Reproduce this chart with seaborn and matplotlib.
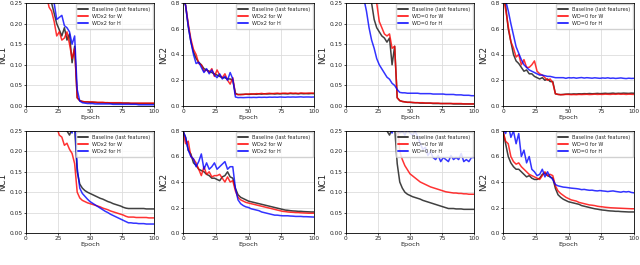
import numpy as np
import pandas as pd
import matplotlib
import matplotlib.pyplot as plt
import seaborn as sns

matplotlib.use('Agg')

# ==========================================
# DATA (epochs 0..100 step 2)
# ==========================================
EPOCHS = list(range(0, 101, 2))

LBL_BASE = 'Baseline (last features)'
LBL_WDX2 = ['WDx2 for W', 'WDx2 for H']
LBL_WD0 = ['WD=0 for W', 'WD=0 for H']

# --- row 1, col 1 : NC1, WDx2 ---
p1_base = [0.90, 0.80, 0.70, 0.60, 0.50, 0.45, 0.40, 0.35, 0.31, 0.27,
           0.25, 0.225, 0.20, 0.185, 0.17, 0.19, 0.16, 0.175, 0.105, 0.145,
           0.020, 0.013, 0.011, 0.010, 0.010, 0.009,
           0.009, 0.009, 0.008, 0.008, 0.008, 0.008, 0.008, 0.007, 0.007, 0.007, 0.007, 0.007, 0.007,
           0.007, 0.007, 0.006, 0.006, 0.006, 0.006, 0.006, 0.006, 0.006, 0.006, 0.006, 0.006]
p1_w = [0.90, 0.80, 0.70, 0.60, 0.50, 0.42, 0.36, 0.31, 0.27, 0.24,
        0.23, 0.205, 0.17, 0.18, 0.16, 0.165, 0.18, 0.15, 0.115, 0.14,
        0.020, 0.013, 0.011, 0.010, 0.010, 0.010,
        0.010, 0.009, 0.009, 0.009, 0.009, 0.008, 0.008, 0.008, 0.008, 0.008, 0.008, 0.008, 0.007,
        0.007, 0.007, 0.007, 0.007, 0.007, 0.007, 0.007, 0.007, 0.007, 0.007, 0.007, 0.007]
p1_h = [0.90, 0.80, 0.70, 0.62, 0.55, 0.48, 0.42, 0.37, 0.33, 0.29,
        0.27, 0.25, 0.21, 0.215, 0.22, 0.195, 0.19, 0.18, 0.15, 0.17,
        0.040, 0.012, 0.008, 0.007, 0.006, 0.006,
        0.006, 0.005, 0.005, 0.005, 0.005, 0.005, 0.005, 0.005, 0.004, 0.004, 0.004, 0.004, 0.004,
        0.004, 0.004, 0.004, 0.004, 0.004, 0.003, 0.003, 0.003, 0.003, 0.003, 0.003, 0.003]

# --- row 1, col 2 : NC2, WDx2 ---
p2_base = [0.85, 0.78, 0.62, 0.50, 0.42, 0.37, 0.34, 0.32, 0.29, 0.28,
           0.27, 0.26, 0.25, 0.24, 0.23, 0.22, 0.22, 0.21, 0.21, 0.20,
           0.10, 0.088, 0.09, 0.09, 0.092, 0.09,
           0.092, 0.093, 0.091, 0.094, 0.092, 0.095, 0.093, 0.094, 0.096, 0.093, 0.095, 0.094, 0.096,
           0.095, 0.094, 0.097, 0.095, 0.096, 0.094, 0.097, 0.095, 0.096, 0.095, 0.097, 0.096]
p2_w = [0.85, 0.78, 0.64, 0.52, 0.44, 0.40, 0.33, 0.32, 0.27, 0.28,
        0.26, 0.29, 0.23, 0.28, 0.24, 0.22, 0.25, 0.20, 0.17, 0.22,
        0.09, 0.09, 0.088, 0.09, 0.092, 0.093,
        0.094, 0.092, 0.096, 0.095, 0.098, 0.094, 0.097, 0.099, 0.096, 0.098, 0.100, 0.097, 0.099,
        0.100, 0.098, 0.101, 0.099, 0.100, 0.098, 0.101, 0.100, 0.099, 0.101, 0.100, 0.100]
p2_h = [0.85, 0.78, 0.62, 0.50, 0.40, 0.33, 0.34, 0.30, 0.26, 0.29,
        0.25, 0.28, 0.24, 0.22, 0.25, 0.21, 0.23, 0.20, 0.26, 0.21,
        0.07, 0.065, 0.066, 0.065, 0.066, 0.067,
        0.066, 0.067, 0.066, 0.068, 0.067, 0.068, 0.067, 0.069, 0.068, 0.069, 0.068, 0.070, 0.069,
        0.068, 0.070, 0.069, 0.070, 0.069, 0.070, 0.071, 0.069, 0.070, 0.070, 0.069, 0.070]

# --- row 1, col 3 : NC1, WD=0 ---
p3_base = [0.90, 0.80, 0.70, 0.60, 0.50, 0.45, 0.40, 0.35, 0.31, 0.27,
           0.25, 0.21, 0.19, 0.18, 0.17, 0.165, 0.155, 0.165, 0.10, 0.145,
           0.020, 0.013, 0.011, 0.010, 0.009, 0.009,
           0.008, 0.008, 0.008, 0.007, 0.007, 0.007, 0.007, 0.007, 0.006, 0.006, 0.006, 0.006, 0.006,
           0.006, 0.006, 0.006, 0.005, 0.005, 0.005, 0.005, 0.005, 0.005, 0.005, 0.005, 0.005]
p3_w = [0.95, 0.85, 0.75, 0.65, 0.57, 0.50, 0.44, 0.38, 0.33, 0.30,
        0.28, 0.27, 0.25, 0.205, 0.19, 0.175, 0.17, 0.175, 0.14, 0.145,
        0.020, 0.013, 0.011, 0.010, 0.009, 0.009,
        0.009, 0.008, 0.008, 0.008, 0.008, 0.007, 0.007, 0.007, 0.007, 0.007, 0.007, 0.006, 0.006,
        0.006, 0.006, 0.006, 0.006, 0.006, 0.006, 0.006, 0.005, 0.005, 0.005, 0.005, 0.005]
p3_h = [0.75, 0.62, 0.52, 0.44, 0.38, 0.33, 0.29, 0.26, 0.23, 0.19,
        0.16, 0.14, 0.115, 0.10, 0.09, 0.08, 0.07, 0.065, 0.055, 0.05,
        0.040, 0.033, 0.032, 0.032, 0.031, 0.031,
        0.031, 0.031, 0.031, 0.030, 0.030, 0.030, 0.030, 0.030, 0.029, 0.029, 0.029, 0.029, 0.029,
        0.028, 0.028, 0.028, 0.028, 0.027, 0.027, 0.027, 0.026, 0.026, 0.026, 0.025, 0.025]

# --- row 1, col 4 : NC2, WD=0 ---
p4_base = [0.85, 0.78, 0.60, 0.50, 0.40, 0.35, 0.33, 0.30, 0.27, 0.28,
           0.25, 0.25, 0.23, 0.22, 0.21, 0.22, 0.20, 0.21, 0.19, 0.19,
           0.095, 0.09, 0.088, 0.09, 0.092, 0.093,
           0.092, 0.094, 0.093, 0.095, 0.094, 0.096, 0.095, 0.097, 0.095, 0.096, 0.098, 0.096, 0.097,
           0.099, 0.097, 0.098, 0.100, 0.097, 0.099, 0.098, 0.100, 0.099, 0.098, 0.100, 0.099]
p4_w = [0.85, 0.75, 0.62, 0.50, 0.45, 0.38, 0.40, 0.32, 0.36, 0.30,
        0.30, 0.32, 0.35, 0.27, 0.25, 0.24, 0.22, 0.20, 0.21, 0.18,
        0.095, 0.09, 0.088, 0.088, 0.09, 0.09,
        0.088, 0.089, 0.088, 0.090, 0.089, 0.090, 0.091, 0.089, 0.090, 0.092, 0.090, 0.091, 0.090,
        0.092, 0.091, 0.090, 0.092, 0.091, 0.093, 0.091, 0.092, 0.090, 0.092, 0.091, 0.090]
p4_h = [0.90, 0.82, 0.74, 0.64, 0.55, 0.46, 0.41, 0.36, 0.32, 0.30,
        0.28, 0.27, 0.26, 0.25, 0.24, 0.24, 0.235, 0.23, 0.23, 0.225,
        0.22, 0.22, 0.22, 0.22, 0.215, 0.22,
        0.218, 0.220, 0.216, 0.219, 0.221, 0.217, 0.220, 0.218, 0.216, 0.219, 0.217, 0.215, 0.218,
        0.216, 0.219, 0.215, 0.217, 0.214, 0.216, 0.218, 0.215, 0.213, 0.216, 0.214, 0.215]

# --- row 2, col 1 : NC1, WDx2 ---
p5_base = [0.90, 0.80, 0.70, 0.62, 0.55, 0.50, 0.46, 0.42, 0.38, 0.35,
           0.33, 0.31, 0.29, 0.28, 0.27, 0.26, 0.25, 0.24, 0.255, 0.26,
           0.15, 0.12, 0.11, 0.104, 0.10, 0.097,
           0.094, 0.091, 0.088, 0.085, 0.083, 0.080, 0.077, 0.075, 0.072, 0.070, 0.068, 0.066, 0.063,
           0.061, 0.060, 0.060, 0.060, 0.060, 0.060, 0.060, 0.060, 0.059, 0.059, 0.059, 0.059]
p5_w = [0.90, 0.80, 0.70, 0.60, 0.52, 0.45, 0.40, 0.35, 0.31, 0.28,
        0.27, 0.26, 0.26, 0.24, 0.235, 0.215, 0.22, 0.205, 0.195, 0.17,
        0.10, 0.086, 0.080, 0.077, 0.074, 0.072,
        0.070, 0.068, 0.066, 0.064, 0.061, 0.059, 0.057, 0.054, 0.052, 0.050, 0.048, 0.046, 0.044,
        0.041, 0.039, 0.039, 0.039, 0.038, 0.038, 0.038, 0.038, 0.038, 0.037, 0.037, 0.037]
p5_h = [0.95, 0.85, 0.75, 0.67, 0.60, 0.54, 0.49, 0.45, 0.41, 0.38,
        0.35, 0.33, 0.31, 0.30, 0.29, 0.28, 0.27, 0.26, 0.245, 0.28,
        0.16, 0.11, 0.097, 0.090, 0.083, 0.077,
        0.073, 0.069, 0.065, 0.061, 0.057, 0.053, 0.050, 0.046, 0.043, 0.040, 0.037, 0.034, 0.031,
        0.028, 0.025, 0.025, 0.024, 0.024, 0.023, 0.023, 0.023, 0.022, 0.022, 0.022, 0.022]

# --- row 2, col 2 : NC2, WDx2 ---
p6_base = [0.80, 0.75, 0.65, 0.62, 0.55, 0.53, 0.50, 0.49, 0.48, 0.46,
           0.45, 0.43, 0.43, 0.42, 0.41, 0.44, 0.45, 0.48, 0.44, 0.43,
           0.35, 0.30, 0.28, 0.27, 0.26, 0.25,
           0.245, 0.24, 0.235, 0.23, 0.225, 0.22, 0.215, 0.21, 0.205, 0.20, 0.195, 0.19, 0.185,
           0.18, 0.178, 0.175, 0.173, 0.172, 0.17, 0.17, 0.168, 0.167, 0.166, 0.165, 0.165]
p6_w = [0.80, 0.70, 0.72, 0.60, 0.58, 0.55, 0.50, 0.45, 0.52, 0.46,
        0.48, 0.44, 0.45, 0.45, 0.46, 0.43, 0.40, 0.44, 0.40, 0.41,
        0.33, 0.28, 0.26, 0.25, 0.24, 0.235,
        0.23, 0.225, 0.22, 0.215, 0.21, 0.205, 0.20, 0.195, 0.19, 0.185, 0.18, 0.175, 0.17,
        0.168, 0.165, 0.163, 0.162, 0.16, 0.16, 0.158, 0.157, 0.156, 0.155, 0.155, 0.155]
p6_h = [0.80, 0.75, 0.65, 0.60, 0.58, 0.52, 0.56, 0.62, 0.50, 0.55,
        0.50, 0.52, 0.55, 0.50, 0.52, 0.54, 0.56, 0.50, 0.52, 0.52,
        0.35, 0.26, 0.23, 0.215, 0.205, 0.20,
        0.19, 0.185, 0.18, 0.175, 0.165, 0.16, 0.155, 0.15, 0.145, 0.14, 0.14, 0.137, 0.135,
        0.135, 0.135, 0.133, 0.132, 0.13, 0.13, 0.13, 0.128, 0.128, 0.127, 0.126, 0.125]

# --- row 2, col 3 : NC1, WD=0 ---
p7_base = [0.90, 0.80, 0.70, 0.62, 0.55, 0.50, 0.46, 0.42, 0.38, 0.35,
           0.33, 0.31, 0.29, 0.28, 0.27, 0.26, 0.25, 0.24, 0.255, 0.26,
           0.17, 0.125, 0.11, 0.10, 0.095, 0.092,
           0.089, 0.087, 0.085, 0.083, 0.080, 0.078, 0.076, 0.074, 0.072, 0.070, 0.068, 0.066, 0.064,
           0.062, 0.060, 0.060, 0.060, 0.059, 0.059, 0.059, 0.058, 0.058, 0.058, 0.058, 0.058]
p7_w = [0.95, 0.85, 0.75, 0.67, 0.60, 0.55, 0.50, 0.46, 0.42, 0.39,
        0.36, 0.34, 0.32, 0.31, 0.30, 0.29, 0.29, 0.28, 0.28, 0.28,
        0.28, 0.20, 0.18, 0.165, 0.155, 0.145,
        0.140, 0.135, 0.130, 0.125, 0.122, 0.119, 0.116, 0.113, 0.111, 0.109, 0.107, 0.105, 0.103,
        0.101, 0.100, 0.099, 0.098, 0.098, 0.097, 0.097, 0.096, 0.096, 0.095, 0.095, 0.095]
p7_h = [1.00, 0.90, 0.80, 0.72, 0.65, 0.58, 0.52, 0.47, 0.43, 0.40,
        0.37, 0.35, 0.33, 0.31, 0.30, 0.28, 0.27, 0.26, 0.245, 0.26,
        0.255, 0.245, 0.25, 0.24, 0.255, 0.245,
        0.24, 0.25, 0.235, 0.22, 0.205, 0.21, 0.19, 0.20, 0.185, 0.18, 0.19, 0.175, 0.185,
        0.18, 0.175, 0.19, 0.18, 0.185, 0.18, 0.195, 0.175, 0.18, 0.175, 0.185, 0.185]

# --- row 2, col 4 : NC2, WD=0 ---
p8_base = [0.80, 0.70, 0.60, 0.55, 0.52, 0.50, 0.50, 0.48, 0.46, 0.44,
           0.45, 0.43, 0.42, 0.42, 0.43, 0.46, 0.47, 0.45, 0.44, 0.43,
           0.35, 0.30, 0.28, 0.265, 0.255, 0.245,
           0.24, 0.235, 0.23, 0.225, 0.215, 0.21, 0.205, 0.20, 0.195, 0.19, 0.187, 0.183, 0.18,
           0.178, 0.175, 0.173, 0.172, 0.17, 0.17, 0.168, 0.167, 0.166, 0.165, 0.165, 0.165]
p8_w = [0.80, 0.72, 0.70, 0.60, 0.56, 0.54, 0.55, 0.52, 0.50, 0.48,
        0.46, 0.45, 0.44, 0.43, 0.42, 0.45, 0.48, 0.45, 0.46, 0.45,
        0.37, 0.33, 0.31, 0.295, 0.28, 0.27,
        0.26, 0.255, 0.25, 0.24, 0.235, 0.23, 0.225, 0.22, 0.218, 0.215, 0.21, 0.207, 0.205,
        0.202, 0.20, 0.198, 0.197, 0.196, 0.195, 0.194, 0.193, 0.192, 0.191, 0.19, 0.19]
p8_h = [0.82, 0.78, 0.85, 0.75, 0.80, 0.70, 0.78, 0.60, 0.65, 0.55,
        0.60, 0.50, 0.48, 0.45, 0.46, 0.50, 0.44, 0.48, 0.44, 0.42,
        0.38, 0.37, 0.365, 0.36, 0.358, 0.355,
        0.352, 0.35, 0.348, 0.345, 0.34, 0.342, 0.338, 0.335, 0.336, 0.332, 0.33, 0.333, 0.33,
        0.328, 0.325, 0.328, 0.33, 0.326, 0.323, 0.32, 0.325, 0.322, 0.325, 0.318, 0.315]

PANELS = [
    ('NC1', p1_base, p1_w, p1_h, LBL_WDX2),
    ('NC2', p2_base, p2_w, p2_h, LBL_WDX2),
    ('NC1', p3_base, p3_w, p3_h, LBL_WD0),
    ('NC2', p4_base, p4_w, p4_h, LBL_WD0),
    ('NC1', p5_base, p5_w, p5_h, LBL_WDX2),
    ('NC2', p6_base, p6_w, p6_h, LBL_WDX2),
    ('NC1', p7_base, p7_w, p7_h, LBL_WD0),
    ('NC2', p8_base, p8_w, p8_h, LBL_WD0),
]

# ==========================================
# PLOT
# ==========================================
sns.set_style('whitegrid', {'axes.edgecolor': 'black', 'grid.color': '#dddddd',
                            'xtick.bottom': True, 'ytick.left': True})
plt.rcParams['font.family'] = ['DejaVu Sans']

W, H = 640, 265
fig = plt.figure(figsize=(W / 100, H / 100), dpi=100)

# axes boxes in pixels: (left, right) per column, (top, bottom) per row
cols_px = [(26, 154), (183, 314), (346, 474), (503, 634)]
rows_px = [(3, 106), (131, 233)]

for k, (name, base, w, h, lbls) in enumerate(PANELS):
    r, c = divmod(k, 4)
    l, rr = cols_px[c]
    t, b = rows_px[r]
    ax = fig.add_axes([l / W, 1 - b / H, (rr - l) / W, (b - t) / H])

    df = pd.DataFrame({
        'Epoch': EPOCHS * 3,
        'value': base + w + h,
        'series': [LBL_BASE] * len(EPOCHS) + [lbls[0]] * len(EPOCHS) + [lbls[1]] * len(EPOCHS),
    })
    sns.lineplot(data=df, x='Epoch', y='value', hue='series',
                 palette=['#111111', 'red', 'blue'], linewidth=1.1, alpha=0.8, ax=ax)

    ax.set_xlim(0, 100)
    ax.set_xticks([0, 25, 50, 75, 100])
    if name == 'NC1':
        ax.set_ylim(0, 0.25)
        ax.set_yticks([0, 0.05, 0.10, 0.15, 0.20, 0.25])
        ax.yaxis.set_major_formatter(matplotlib.ticker.FormatStrFormatter('%.2f'))
    else:
        ax.set_ylim(0, 0.8)
        ax.set_yticks([0, 0.2, 0.4, 0.6, 0.8])
        ax.yaxis.set_major_formatter(matplotlib.ticker.FormatStrFormatter('%.1f'))
    ax.tick_params(labelsize=4.2, pad=0.8, length=1.5, width=0.5, color='black')
    ax.set_xlabel('Epoch', fontsize=4.6, labelpad=0.5)
    ax.set_ylabel(name, fontsize=6.3, labelpad=1.5)
    for s in ax.spines.values():
        s.set_linewidth(0.6)
    ax.grid(linewidth=0.6)

    leg = ax.legend(loc='upper right', fontsize=3.6, handlelength=2.0,
                    borderpad=0.5, labelspacing=0.45, borderaxespad=0.2, framealpha=0.85)
    for line in leg.get_lines():
        line.set_linewidth(1.4)

fig.savefig('out.png', dpi=100)
plt.close(fig)
